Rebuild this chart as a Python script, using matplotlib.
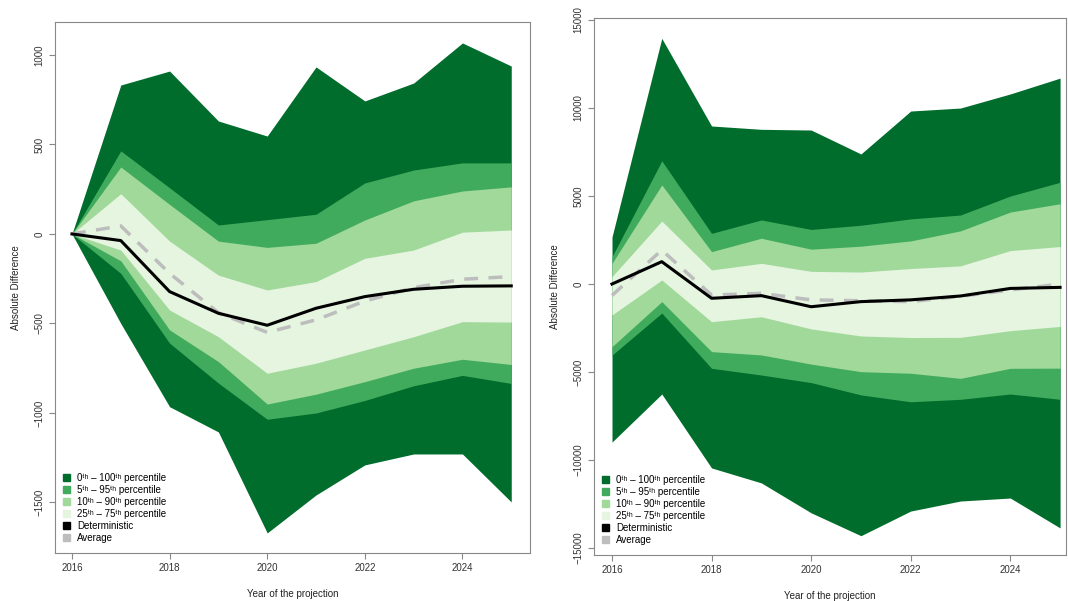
import matplotlib.pyplot as plt
from matplotlib.patches import Patch

plt.rcParams["font.family"] = ["Liberation Sans", "DejaVu Sans"]

years = [2016, 2017, 2018, 2019, 2020, 2021, 2022, 2023, 2024, 2025]

# left panel
left_p0 = [0, -500, -965, -1106, -1670, -1458, -1290, -1229, -1229, -1497]
left_p5 = [0, -220, -610, -833, -1035, -1000, -930, -848, -790, -835]
left_p10 = [0, -150, -536, -713, -950, -895, -825, -750, -700, -729]
left_p25 = [0, -90, -425, -574, -778, -722, -648, -574, -490, -492]
left_p75 = [0, 225, -40, -230, -313, -266, -136, -90, 10, 22]
left_p90 = [0, 374, 165, -40, -75, -52, 78, 185, 240, 263]
left_p95 = [0, 464, 258, 50, 80, 110, 285, 357, 397, 397]
left_p100 = [0, 832, 910, 631, 547, 933, 743, 843, 1067, 938]
left_det = [0, -37, -322, -443, -510, -415, -350, -309, -292, -290]
left_avg = [0, 45, -220, -440, -550, -480, -375, -300, -253, -238]

# right panel
right_p0 = [-8980, -6250, -10450, -11300, -13000, -14300, -12900, -12330, -12160, -13860]
right_p5 = [-4040, -1650, -4790, -5170, -5600, -6300, -6690, -6550, -6250, -6550]
right_p10 = [-3560, -1000, -3840, -4030, -4550, -4980, -5070, -5360, -4790, -4780]
right_p25 = [-1760, 230, -2140, -1860, -2550, -2950, -3040, -3030, -2650, -2410]
right_p75 = [420, 3580, 800, 1175, 720, 680, 880, 1030, 1900, 2130]
right_p90 = [1170, 5630, 1840, 2600, 1980, 2150, 2450, 3020, 4090, 4560]
right_p95 = [1550, 7000, 2880, 3640, 3100, 3340, 3700, 3920, 5000, 5780]
right_p100 = [2670, 13960, 8980, 8790, 8750, 7390, 9830, 10000, 10800, 11700]
right_det = [0, 1270, -810, -660, -1290, -1000, -900, -680, -250, -190]
right_avg = [-650, 1930, -630, -530, -900, -950, -1000, -700, -340, 0]

band_colors = ["#006d2c", "#41ab5d", "#a1d99b", "#e5f5e0"]
band_labels = [
    "0ᵗʰ – 100ᵗʰ percentile",
    "5ᵗʰ – 95ᵗʰ percentile",
    "10ᵗʰ – 90ᵗʰ percentile",
    "25ᵗʰ – 75ᵗʰ percentile",
]


def fan(ax, lows, highs, det, avg):
    for lo, hi, c in zip(lows, highs, band_colors):
        ax.fill_between(years, lo, hi, color=c, lw=0)
    ax.plot(years, avg, color="#bdbdbd", lw=2.5, ls=(0, (4, 3)))
    ax.plot(years, det, color="black", lw=2.2)

    handles = [Patch(color=c) for c in band_colors]
    handles += [Patch(color="black"), Patch(color="#bdbdbd")]
    labels = band_labels + ["Deterministic", "Average"]
    ax.legend(handles, labels, loc="lower left", bbox_to_anchor=(0.0, 0.005),
              frameon=False, fontsize=7, handlelength=0.7, handleheight=0.7,
              labelspacing=0.2, handletextpad=0.8, borderpad=0.3)

    for s in ax.spines.values():
        s.set_color("#888888")
        s.set_linewidth(0.8)
    ax.tick_params(axis="both", labelsize=7, color="#888888", length=4,
                   labelcolor="#333333")
    ax.set_xticks([2016, 2018, 2020, 2022, 2024])
    for lab in ax.get_yticklabels():
        lab.set_rotation(90)
        lab.set_va("center")
    ax.set_xlabel("Year of the projection", fontsize=7, color="#222222", labelpad=11)
    ax.set_ylabel("Absolute Difference", fontsize=7, color="#222222", labelpad=10)


fig = plt.figure(figsize=(10.68, 6.01), dpi=100)

ax1 = fig.add_axes([0.0515, 0.0799, 0.4448, 0.8835])
ax1.set_xlim(2015.652, 2025.385)
ax1.set_ylim(-1782, 1184)
ax1.set_yticks([-1500, -1000, -500, 0, 500, 1000])
fan(ax1, [left_p0, left_p5, left_p10, left_p25],
    [left_p100, left_p95, left_p90, left_p75], left_det, left_avg)

ax2 = fig.add_axes([0.5562, 0.0765, 0.4418, 0.8935])
ax2.set_xlim(2015.639, 2025.116)
ax2.set_ylim(-15398, 15114)
ax2.set_yticks([-15000, -10000, -5000, 0, 5000, 10000, 15000])
fan(ax2, [right_p0, right_p5, right_p10, right_p25],
    [right_p100, right_p95, right_p90, right_p75], right_det, right_avg)

plt.savefig("out.png", dpi=100)
